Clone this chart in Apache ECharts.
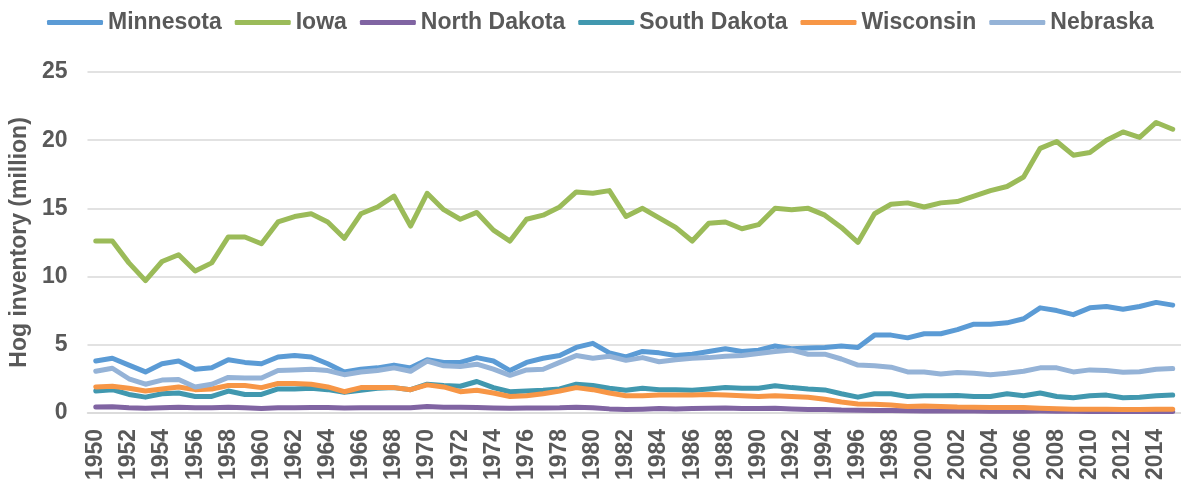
<!DOCTYPE html>
<html>
<head>
<meta charset="utf-8">
<script src="https://cdn.jsdelivr.net/npm/echarts@6/dist/echarts.min.js"></script>
<style>
  html, body { margin: 0; padding: 0; background: #fff; }
  #chart { width: 1181px; height: 483px; }
</style>
</head>
<body>
<div id="chart"></div>
<script>
// years 1950..2015
var years = []
for (var y = 1950; y <= 2015; y++) years.push(String(y))

var minnesota = [
  3.8, 4.0, 3.5, 3.0, 3.6, 3.8, 3.2, 3.3, 3.9, 3.7, 3.6, 4.1, 4.2, 4.1, 3.6, 3.0, 3.2, 3.3, 3.5, 3.3, 3.9, 3.7, 3.7, 4.05,
  3.8, 3.1, 3.7, 4.0, 4.2, 4.8, 5.1, 4.4, 4.1, 4.5, 4.4, 4.2, 4.3, 4.5, 4.7, 4.5, 4.6, 4.9, 4.7,
  4.75, 4.8, 4.9, 4.8, 5.7, 5.7, 5.5, 5.8, 5.8, 6.1, 6.5, 6.5, 6.6, 6.9, 7.7, 7.5, 7.2, 7.7, 7.8, 7.6, 7.8, 8.1, 7.9
]
var iowa = [
  12.6, 12.6, 11.0, 9.7, 11.1, 11.6, 10.4, 11.0, 12.9, 12.9, 12.4, 14.0, 14.4, 14.6, 14.0, 12.8, 14.6, 15.1, 15.9, 13.7,
  16.1, 14.9, 14.2, 14.7, 13.4, 12.6, 14.2, 14.5, 15.1, 16.2, 16.1, 16.3, 14.4, 15.0, 14.3, 13.6, 12.6, 13.9, 14.0, 13.5,
  13.8, 15.0, 14.9, 15.0, 14.5, 13.6, 12.5, 14.6, 15.3, 15.4, 15.1, 15.4, 15.5, 15.9, 16.3, 16.6, 17.3, 19.4, 19.9, 18.9,
  19.1, 20.0, 20.6, 20.2, 21.3, 20.8
]
var northDakota = [
  0.42, 0.45, 0.37, 0.34, 0.37, 0.41, 0.37, 0.37, 0.41, 0.37, 0.32, 0.37, 0.37, 0.39, 0.39, 0.36, 0.37, 0.37, 0.37, 0.37, 0.46, 0.41, 0.41, 0.39,
  0.36, 0.34, 0.36, 0.36, 0.37, 0.41, 0.37, 0.29, 0.25, 0.27, 0.31, 0.29, 0.31, 0.33, 0.35, 0.31, 0.31, 0.33, 0.29,
  0.25, 0.24, 0.2, 0.19, 0.18, 0.17, 0.15, 0.13, 0.14, 0.13, 0.13, 0.12, 0.12, 0.12, 0.13, 0.12, 0.11, 0.1, 0.1, 0.1, 0.1, 0.1, 0.1
]
var southDakota = [
  1.6, 1.7, 1.35, 1.15, 1.4, 1.45, 1.2, 1.2, 1.6, 1.35, 1.35, 1.75, 1.75, 1.8, 1.7, 1.5, 1.65, 1.8, 1.85, 1.7, 2.1, 2.0, 1.95, 2.3,
  1.85, 1.55, 1.6, 1.65, 1.75, 2.1, 2.0, 1.8, 1.65, 1.8, 1.7, 1.7, 1.65, 1.75, 1.85, 1.8, 1.8, 1.98, 1.85,
  1.75, 1.68, 1.4, 1.15, 1.4, 1.4, 1.2, 1.25, 1.25, 1.27, 1.2, 1.2, 1.4, 1.25, 1.45, 1.2, 1.1, 1.25, 1.3, 1.1, 1.15, 1.25, 1.3
]
var wisconsin = [
  1.9, 1.95, 1.8, 1.6, 1.75, 1.9, 1.7, 1.75, 2.0, 2.0, 1.85, 2.15, 2.15, 2.1, 1.9, 1.55, 1.85, 1.85, 1.85, 1.7, 2.05, 1.9, 1.55, 1.65,
  1.45, 1.2, 1.25, 1.4, 1.6, 1.85, 1.7, 1.45, 1.25, 1.25, 1.3, 1.3, 1.3, 1.35, 1.3, 1.25, 1.2, 1.25, 1.2,
  1.15, 1.0, 0.8, 0.65, 0.63, 0.58, 0.47, 0.5, 0.46, 0.42, 0.41, 0.39, 0.39, 0.39, 0.34, 0.3, 0.27, 0.27, 0.27, 0.24, 0.24, 0.27, 0.27
]
var nebraska = [
  3.05, 3.27, 2.5, 2.1, 2.4, 2.45, 1.9, 2.1, 2.6, 2.55, 2.55, 3.1, 3.15, 3.2, 3.1, 2.8, 3.0, 3.1, 3.3, 3.05, 3.8, 3.45, 3.4, 3.57,
  3.2, 2.75, 3.15, 3.2, 3.7, 4.2, 4.0, 4.15, 3.85, 4.05, 3.75, 3.9, 4.0, 4.05, 4.15, 4.2, 4.35, 4.5, 4.6,
  4.3, 4.3, 3.95, 3.5, 3.45, 3.35, 3.0, 3.0, 2.85, 2.95, 2.9, 2.8, 2.9, 3.05, 3.3, 3.3, 3.0, 3.15, 3.1, 2.97, 3.02, 3.2, 3.25
]

var seriesNames = ['Minnesota', 'Iowa', 'North Dakota', 'South Dakota', 'Wisconsin', 'Nebraska']
var seriesData = [minnesota, iowa, northDakota, southDakota, wisconsin, nebraska]
var colors = ['#5b9bd5', '#9bbb59', '#8064a2', '#4198af', '#f79646', '#95b3d7']

var font = "'Liberation Sans', Arial, sans-serif"
var textColor = '#595959'

var myChart = echarts.init(document.getElementById('chart'), null, { renderer: 'canvas' })

var option = {
  animation: false,
  color: colors,
  legend: {
    data: seriesNames,
    left: 42,
    top: 6,
    icon: 'roundRect',
    itemWidth: 56,
    itemHeight: 5,
    itemGap: 13,
    textStyle: {
      fontFamily: font,
      fontSize: 23,
      fontWeight: 'bold',
      color: textColor
    }
  },
  grid: {
    left: 85,
    top: 72,
    width: 1107,
    bottom: 68,
    containLabel: false
  },
  xAxis: {
    type: 'category',
    data: years,
    boundaryGap: true,
    axisLine: { lineStyle: { color: '#d9d9d9', width: 1.5 } },
    axisTick: { show: false },
    axisLabel: {
      interval: 1,
      rotate: 90,
      margin: 16,
      fontFamily: font,
      fontSize: 23,
      fontWeight: 'bold',
      color: textColor
    }
  },
  yAxis: {
    type: 'value',
    min: 0,
    max: 25,
    interval: 5,
    name: 'Hog inventory (million)',
    nameLocation: 'middle',
    nameRotate: 90,
    nameGap: 55,
    nameTextStyle: {
      fontFamily: font,
      fontSize: 23,
      fontWeight: 'bold',
      color: textColor
    },
    axisLine: { show: false },
    axisTick: { show: false },
    splitLine: { lineStyle: { color: '#d9d9d9', width: 1.5 } },
    axisLabel: {
      margin: 20,
      fontFamily: font,
      fontSize: 23,
      fontWeight: 'bold',
      color: textColor
    }
  },
  series: seriesNames.map(function(name, i) {
    return {
      name: name,
      type: 'line',
      data: seriesData[i],
      showSymbol: false,
      symbol: 'none',
      lineStyle: { width: 5, cap: 'round', join: 'round', color: colors[i] },
      itemStyle: { color: colors[i] }
    }
  })
}

option && myChart.setOption(option)
</script>
</body>
</html>
